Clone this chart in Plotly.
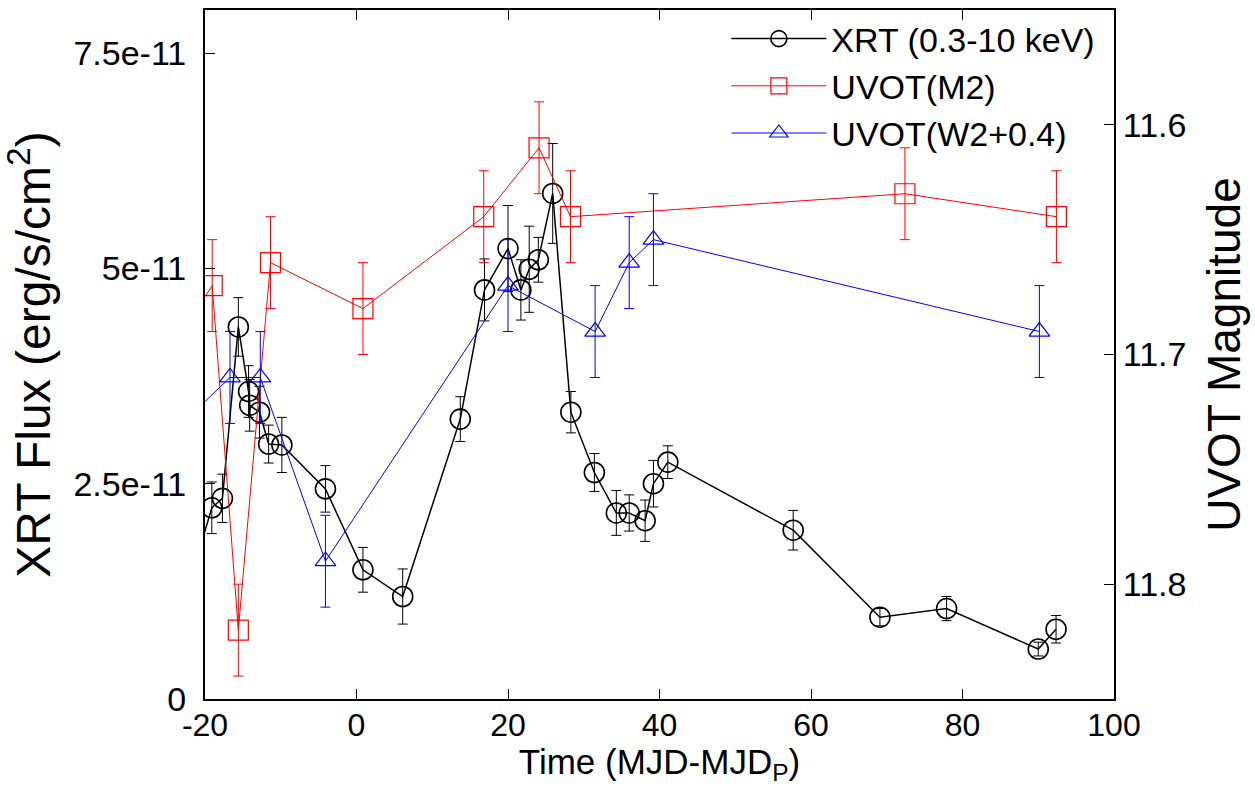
import plotly.graph_objects as go

# ---- data ----
t_xrt = [-23.0, -19.1, -17.7, -15.6, -14.25, -14.1, -12.8, -11.6, -9.85, -4.1, 0.85, 6.1,
         13.7, 16.9, 20.0, 21.7, 22.8, 24.0, 25.9, 28.3, 31.4, 34.3, 36.0, 38.1, 39.2, 41.1,
         57.65, 69.1, 77.9, 90.0, 92.35]
flux_xrt = [1.06, 2.22, 2.33, 4.32, 3.57, 3.41, 3.33, 2.96, 2.95, 2.44, 1.50, 1.19,
            3.25, 4.75, 5.23, 4.75, 4.99, 5.10, 5.87, 3.33, 2.63, 2.16, 2.16, 2.07, 2.50, 2.75,
            1.96, 0.95, 1.05, 0.58, 0.81]  # units of 1e-11
err_xrt = [0.30, 0.30, 0.28, 0.34, 0.30, 0.30, 0.30, 0.22, 0.32, 0.27, 0.26, 0.32,
           0.26, 0.36, 0.50, 0.35, 0.50, 0.26, 0.58, 0.24, 0.22, 0.26, 0.21, 0.24, 0.27, 0.19,
           0.23, 0.10, 0.14, 0.08, 0.16]

t_m2 = [-23.0, -19.05, -15.6, -11.35, 0.85, 16.8, 24.1, 28.25, 72.4, 92.4]
mag_m2 = [11.69, 11.67, 11.82, 11.66, 11.68, 11.64, 11.61, 11.64, 11.63, 11.64]
err_m2 = [0.02, 0.02, 0.02, 0.02, 0.02, 0.02, 0.02, 0.02, 0.02, 0.02]

t_w2 = [-23.0, -16.7, -12.7, -4.1, 20.0, 31.5, 36.0, 39.2, 90.15]
mag_w2 = [11.73, 11.71, 11.71, 11.79, 11.67, 11.69, 11.66, 11.65, 11.69]
err_w2 = [0.02, 0.02, 0.02, 0.02, 0.02, 0.02, 0.02, 0.02, 0.02]

x_ticks = [-20, 0, 20, 40, 60, 80, 100]
x_ticktext = ["-20", "0", "20", "40", "60", "80", "100"]
y_ticks = [0, 2.5e-11, 5e-11, 7.5e-11]
y_ticktext = ["0", "2.5e-11", "5e-11", "7.5e-11"]
y2_ticks = [11.6, 11.7, 11.8]
y2_ticktext = ["11.6", "11.7", "11.8"]

FONT = "Liberation Sans, Arial, sans-serif"

fig = go.Figure()
fig.add_trace(go.Scatter(
    x=t_xrt, y=[f * 1e-11 for f in flux_xrt],
    error_y=dict(type="data", array=[e * 1e-11 for e in err_xrt], color="black", thickness=1, width=5),
    mode="lines+markers", name="XRT (0.3-10 keV)",
    line=dict(color="black", width=1.5),
    marker=dict(symbol="circle-open", size=20, color="black", line=dict(width=1.6)),
))
fig.add_trace(go.Scatter(
    x=t_m2, y=mag_m2, yaxis="y2",
    error_y=dict(type="data", array=err_m2, color="red", thickness=1, width=5),
    mode="lines+markers", name="UVOT(M2)",
    line=dict(color="red", width=1),
    marker=dict(symbol="square-open", size=20, color="red", line=dict(width=1.2)),
))
fig.add_trace(go.Scatter(
    x=t_w2, y=mag_w2, yaxis="y2",
    error_y=dict(type="data", array=err_w2, color="blue", thickness=1, width=5),
    mode="lines+markers", name="UVOT(W2+0.4)",
    line=dict(color="blue", width=1),
    marker=dict(symbol="triangle-up-open", size=18, color="blue", line=dict(width=1.2)),
))

axis_common = dict(showgrid=False, zeroline=False, showline=True, linecolor="black", linewidth=2,
                   ticks="inside", ticklen=10, tickcolor="black", tickwidth=1)

fig.update_layout(
    width=1255, height=786,
    margin=dict(l=205, r=141, t=10, b=87, autoexpand=False),
    paper_bgcolor="white", plot_bgcolor="white",
    font=dict(family=FONT, color="black"),
    xaxis=dict(range=[-20, 100], tickvals=x_ticks, ticktext=x_ticktext, mirror="ticks",
               tickfont=dict(size=32, color="black", family=FONT), ticklabelstandoff=-3,
               title=dict(text="Time (MJD-MJD<sub>P</sub>)", font=dict(size=35), standoff=10),
               **axis_common),
    yaxis=dict(range=[0, 8e-11], tickvals=y_ticks, ticktext=y_ticktext,
               tickfont=dict(size=34, color="black", family=FONT), ticklabelstandoff=10,
               title=dict(text="XRT Flux (erg/s/cm<sup>2</sup>)", font=dict(size=48), standoff=10),
               **axis_common),
    yaxis2=dict(range=[11.85, 11.55], tickvals=y2_ticks, ticktext=y2_ticktext,
                overlaying="y", side="right",
                tickfont=dict(size=34, color="black", family=FONT),
                title=dict(text="UVOT Magnitude", font=dict(size=46), standoff=22),
                **axis_common),
    legend=dict(x=0.985, y=1.0, xanchor="right", yanchor="top", bgcolor="rgba(0,0,0,0)",
                font=dict(size=34, color="black", family=FONT), itemwidth=95,
                tracegroupgap=0),
    showlegend=True,
)

fig.write_html("out.html")
